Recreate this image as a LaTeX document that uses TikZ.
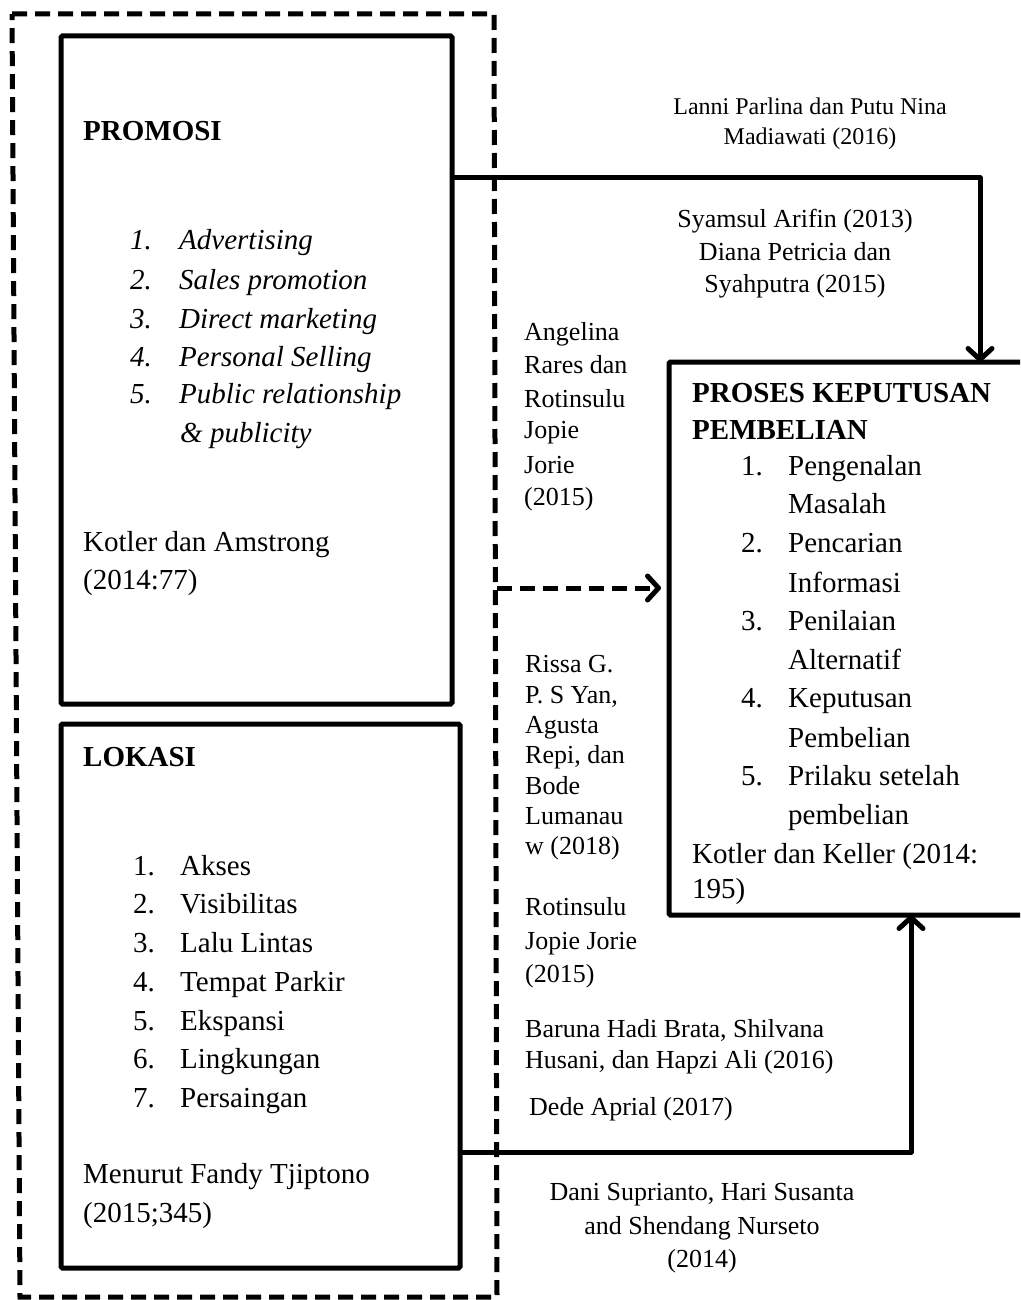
\documentclass[tikz,border=0pt]{standalone}
\usepackage{fontspec}
\setmainfont{Liberation Serif}
\usetikzlibrary{arrows.meta}
\begin{document}
\begin{tikzpicture}[x=1pt,y=-1pt,
  box/.style={draw, line width=5pt, rounded corners=1.5pt, inner sep=0pt, outer sep=0pt},
  main/.style={font=\fontsize{29}{38}\selectfont, inner sep=0pt, anchor=base west},
  mainb/.style={font=\fontsize{29}{38}\selectfont\bfseries, inner sep=0pt, anchor=base west},
  mainit/.style={font=\fontsize{29}{38}\selectfont\itshape, inner sep=0pt, anchor=base west},
  cite/.style={font=\fontsize{26}{33}\selectfont, inner sep=0pt, anchor=base west},
  citec/.style={font=\fontsize{26}{33}\selectfont, inner sep=0pt, anchor=base},
  citesm/.style={font=\fontsize{24}{31}\selectfont, inner sep=0pt, anchor=base},
  arr/.style={line width=5pt, line join=round, -{Straight Barb[length=11pt,width=24pt,line cap=round,line join=round]}},
  dashframe/.style={line width=5pt, dash pattern=on 15pt off 8pt},
  dasharr/.style={line width=5pt, dash pattern=on 15pt off 8pt, -{Straight Barb[length=11pt,width=24pt,line cap=round,line join=round]}}
]
\clip (0,0) rectangle (1020,1300);
\fill[white] (0,0) rectangle (1020,1300);

% dashed frame
\coordinate (f1) at (12,14);
\coordinate (f2) at (494,14);
\coordinate (f3) at (497,1297);
\coordinate (f4) at (20,1297);
\draw[dashframe] (f1) -- (f2) -- (f3) -- (f4) -- cycle;

% boxes
\node[box, minimum width=391pt, minimum height=668pt] (promosi) at (256.5,370) {};
\node[box, minimum width=399pt, minimum height=544pt] (lokasi) at (260.5,996) {};
\node[box, minimum width=380pt, minimum height=553pt] (proses) at (859,638.5) {};

% PROMOSI text
\node[mainb] (promT) at (83,141) {PROMOSI};
\foreach \y/\n/\t [count=\i] in {249/1./Advertising, 289/2./Sales promotion, 328/3./Direct marketing, 366/4./Personal Selling, 403/5./Public relationship}{
  \node[mainit] (pn\i) at (130,\y) {\n};
  \node[mainit] (pt\i) at (179,\y) {\t};
}
\node[mainit] (pt6) at (180,442) {\& publicity};
\node[main] (pref1) at (83,551) {Kotler dan Amstrong};
\node[main] (pref2) at (83,589) {(2014:77)};

% LOKASI text
\node[mainb] (lokT) at (83,766) {LOKASI};
\foreach \y/\n/\t [count=\i] in {875/1./Akses, 913/2./Visibilitas, 952/3./Lalu Lintas, 991/4./Tempat Parkir, 1030/5./Ekspansi, 1068/6./Lingkungan, 1107/7./Persaingan}{
  \node[main] (ln\i) at (133,\y) {\n};
  \node[main] (lt\i) at (180,\y) {\t};
}
\node[main] (lref1) at (83,1183) {Menurut Fandy Tjiptono};
\node[main] (lref2) at (83,1222) {(2015;345)};

% PROSES text
\node[mainb] (prT1) at (692,402) {PROSES KEPUTUSAN};
\node[mainb] (prT2) at (692,439) {PEMBELIAN};
\foreach \y/\n/\t [count=\i] in {475/1./Pengenalan, 552/2./Pencarian, 630/3./Penilaian, 707/4./Keputusan, 785/5./Prilaku setelah}{
  \node[main] (rn\i) at (741,\y) {\n};
  \node[main] (rt\i) at (788,\y) {\t};
}
\foreach \y/\t [count=\i] in {513/Masalah, 592/Informasi, 669/Alternatif, 747/Pembelian, 824/pembelian}{
  \node[main] (rc\i) at (788,\y) {\t};
}
\node[main] (rref1) at (692,863) {Kotler dan Keller (2014:};
\node[main] (rref2) at (692,898) {195)};

% connectors
\coordinate (c1) at (980,178);
\draw[arr] (promosi.east |- c1) -- (c1) -- (c1 |- proses.north);
\coordinate (c3) at (911,1152);
\draw[arr] (lokasi.east |- c3) -- (c3) -- (c3 |- proses.south);
\coordinate (d0) at (497,588);
\draw[dasharr, shorten >=8pt] (d0) -- (proses.west |- d0);

% citations
\node[citesm] (a1) at (810,115) {Lanni Parlina dan Putu Nina};
\node[citesm] (a2) at (810,145) {Madiawati (2016)};
\node[citec] (b1) at (795,227) {Syamsul Arifin (2013)};
\node[citec] (b2) at (795,260) {Diana Petricia dan};
\node[citec] (b3) at (795,292) {Syahputra (2015)};
\foreach \y/\t [count=\i] in {340/Angelina, 373/Rares dan, 407/Rotinsulu, 438/Jopie, 473/Jorie, 505/(2015)}{
  \node[cite] (g\i) at (524,\y) {\t};
}
\foreach \y/\t [count=\i] in {672/Rissa G., 703/{P. S Yan,}, 733/Agusta, 763/{Repi, dan}, 794/Bode, 824/Lumanau, 854/w (2018)}{
  \node[cite] (r\i) at (525,\y) {\t};
}
\node[cite] (j1) at (525,915) {Rotinsulu};
\node[cite] (j2) at (525,949) {Jopie Jorie};
\node[cite] (j3) at (525,982) {(2015)};
\node[cite] (h1) at (525,1037) {Baruna Hadi Brata, Shilvana};
\node[cite] (h2) at (525,1068) {Husani, dan Hapzi Ali (2016)};
\node[cite] (e1) at (529,1115) {Dede Aprial (2017)};
\node[citec] (s1) at (702,1200) {Dani Suprianto, Hari Susanta};
\node[citec] (s2) at (702,1234) {and Shendang Nurseto};
\node[citec] (s3) at (702,1267) {(2014)};
\end{tikzpicture}
\end{document}
